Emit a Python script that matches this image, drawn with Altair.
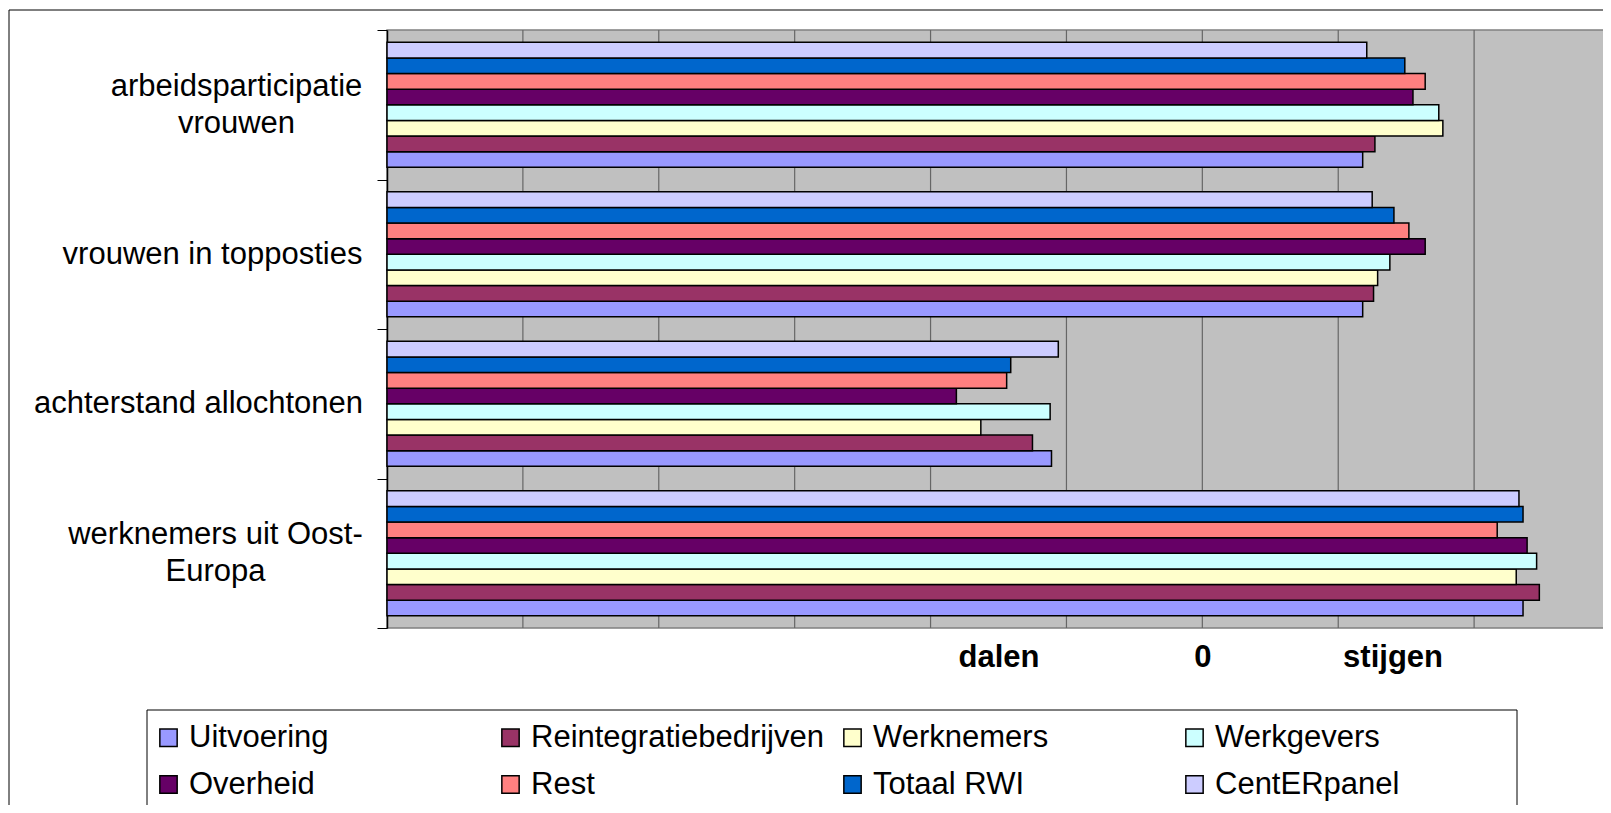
import altair as alt
import pandas as pd

FONT = "Liberation Sans"

categories = ["arbeidsparticipatie vrouwen", "vrouwen in topposties",
              "achterstand allochtonen", "werknemers uit Oost-Europa"]
series = ["Uitvoering", "Reintegratiebedrijven", "Werknemers", "Werkgevers",
          "Overheid", "Rest", "Totaal RWI", "CentERpanel"]
colors = ["#9999FF", "#993366", "#FFFFCC", "#CCFFFF",
          "#660066", "#FF8080", "#0066CC", "#CCCCFF"]

uitvoering = [1.18, 1.18, -1.11, 2.36]
reintegratie = [1.27, 1.26, -1.25, 2.48]
werknemers = [1.77, 1.29, -1.63, 2.31]
werkgevers = [1.74, 1.38, -1.12, 2.46]
overheid = [1.55, 1.64, -1.81, 2.39]
rest = [1.64, 1.52, -1.44, 2.17]
totaal_rwi = [1.49, 1.41, -1.41, 2.36]
centerpanel = [1.21, 1.25, -1.06, 2.33]

x_min, x_max = -6, 3
grid_values = [-5, -4, -3, -2, -1, 0, 1, 2]
tick_values = [-1.5, 0, 1.4]
tick_labels = ["dalen", "0", "stijgen"]

# multi-line category labels and their centring offsets
label_lines = {
    "arbeidsparticipatie vrouwen": ["arbeidsparticipatie", "vrouwen"],
    "werknemers uit Oost-Europa": ["werknemers uit Oost-", "Europa"],
}
label_pad = [141, 165, 179, 162]

values = [uitvoering, reintegratie, werknemers, werkgevers,
          overheid, rest, totaal_rwi, centerpanel]
rows = []
for s, vals in zip(series, values):
    for c, v in zip(categories, vals):
        rows.append({"category": c, "series": s, "value": v})
df = pd.DataFrame(rows)

xscale = alt.Scale(domain=[x_min, x_max], nice=False, zero=False)

x_label_expr = ""
for v, t in zip(tick_values, tick_labels):
    x_label_expr += f"datum.value == {v} ? '{t}' : "
x_label_expr += "''"

x_axis = alt.Axis(values=tick_values, labelExpr=x_label_expr, title=None,
                  grid=False, ticks=False, domain=False, labelFont=FONT,
                  labelFontSize=31, labelFontWeight="bold", labelColor="black",
                  labelPadding=14, labelFlush=False)

y_label_expr = ""
for k, lines in label_lines.items():
    arr = ", ".join(f"'{l}'" for l in lines)
    y_label_expr += f"datum.label == '{k}' ? [{arr}] : "
y_label_expr += "datum.label"

pad_cond = {
    "condition": [{"test": f"datum.value == '{c}'", "value": p}
                  for c, p in zip(categories[:-1], label_pad[:-1])],
    "value": label_pad[-1],
}
offset_cond = {
    "condition": [{"test": f"datum.value == '{k}'", "value": -18.5}
                  for k in label_lines],
    "value": 0,
}

y_axis = alt.Axis(title=None, labelFont=FONT, labelFontSize=31,
                  labelColor="black", labelAlign="center",
                  labelPadding=pad_cond, labelOffset=offset_cond,
                  labelExpr=y_label_expr,
                  labelLineHeight=37, tickBand="extent", tickSize=10,
                  tickColor="black", tickWidth=1, domainColor="black",
                  domainWidth=1.5, grid=False, labelLimit=0)

legend = alt.Legend(title=None, orient="none", legendX=-234, legendY=692,
                    columns=4, direction="horizontal", symbolType="square",
                    symbolSize=300, symbolStrokeColor="black",
                    symbolStrokeWidth=1.5, labelFont=FONT, labelFontSize=31,
                    labelColor="black", labelOffset=5, columnPadding=13,
                    rowPadding=15, padding=0, gridAlign="all", labelLimit=0,
                    symbolOpacity=1)

bars = alt.Chart(df).mark_bar(stroke="black", strokeWidth=1.5).encode(
    y=alt.Y("category:N", sort=categories, axis=y_axis,
            scale=alt.Scale(paddingInner=0, paddingOuter=0)),
    yOffset=alt.YOffset("series:N", sort=series[::-1],
                        scale=alt.Scale(paddingInner=0, paddingOuter=0.784)),
    x=alt.X("value:Q", scale=xscale, axis=x_axis),
    x2=alt.datum(x_min),
    color=alt.Color("series:N", sort=series,
                    scale=alt.Scale(domain=series, range=colors),
                    legend=legend),
)

grid = alt.Chart(pd.DataFrame({"g": grid_values})).mark_rule(
    color="#666666", strokeWidth=1.2).encode(
    x=alt.X("g:Q", scale=xscale, axis=x_axis),
)

frame = alt.Chart(pd.DataFrame({"a": [0]}))
border = frame.mark_rect(fillOpacity=0, stroke="black", strokeWidth=1).encode(
    x=alt.value(-378), x2=alt.value(1240), y=alt.value(-20), y2=alt.value(800),
)
legend_box = frame.mark_rect(fill="white", stroke="black", strokeWidth=1).encode(
    x=alt.value(-240), x2=alt.value(1130), y=alt.value(680), y2=alt.value(780),
)

chart = alt.layer(border, legend_box, grid, bars).properties(
    width=1223, height=598,
    autosize=alt.AutoSizeParams(type="none"),
    padding={"left": 379, "top": 22, "right": -7, "bottom": 177},
    background="white",
).configure_view(
    fill="#C0C0C0", stroke="#808080", strokeWidth=1.5,
)

chart.save("out.html", embed_options={"renderer": "svg", "actions": False})
